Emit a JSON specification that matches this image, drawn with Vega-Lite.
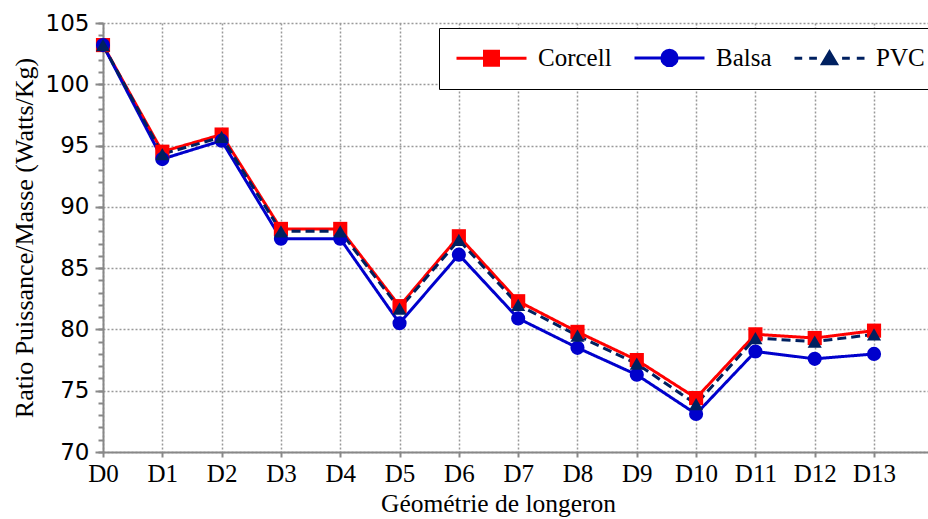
{
  "$schema": "https://vega.github.io/schema/vega-lite/v6.json",
  "width": 825,
  "height": 429,
  "autosize": {"type": "none"},
  "padding": {"left": 103, "top": 23, "right": 0, "bottom": 67},
  "background": "white",
  "config": {"view": {"stroke": null}, "font": "Liberation Serif"},
  "data": {
    "values": [
      {"geom": "D0", "serie": "Corcell", "ratio": 103.2},
      {"geom": "D1", "serie": "Corcell", "ratio": 94.5},
      {"geom": "D2", "serie": "Corcell", "ratio": 95.9},
      {"geom": "D3", "serie": "Corcell", "ratio": 88.2},
      {"geom": "D4", "serie": "Corcell", "ratio": 88.2},
      {"geom": "D5", "serie": "Corcell", "ratio": 81.9},
      {"geom": "D6", "serie": "Corcell", "ratio": 87.6},
      {"geom": "D7", "serie": "Corcell", "ratio": 82.3},
      {"geom": "D8", "serie": "Corcell", "ratio": 79.8},
      {"geom": "D9", "serie": "Corcell", "ratio": 77.5},
      {"geom": "D10", "serie": "Corcell", "ratio": 74.4},
      {"geom": "D11", "serie": "Corcell", "ratio": 79.6},
      {"geom": "D12", "serie": "Corcell", "ratio": 79.3},
      {"geom": "D13", "serie": "Corcell", "ratio": 79.9},
      {"geom": "D0", "serie": "Balsa", "ratio": 103.2},
      {"geom": "D1", "serie": "Balsa", "ratio": 93.9},
      {"geom": "D2", "serie": "Balsa", "ratio": 95.4},
      {"geom": "D3", "serie": "Balsa", "ratio": 87.4},
      {"geom": "D4", "serie": "Balsa", "ratio": 87.4},
      {"geom": "D5", "serie": "Balsa", "ratio": 80.5},
      {"geom": "D6", "serie": "Balsa", "ratio": 86.1},
      {"geom": "D7", "serie": "Balsa", "ratio": 80.9},
      {"geom": "D8", "serie": "Balsa", "ratio": 78.5},
      {"geom": "D9", "serie": "Balsa", "ratio": 76.3},
      {"geom": "D10", "serie": "Balsa", "ratio": 73.1},
      {"geom": "D11", "serie": "Balsa", "ratio": 78.2},
      {"geom": "D12", "serie": "Balsa", "ratio": 77.6},
      {"geom": "D13", "serie": "Balsa", "ratio": 78.0},
      {"geom": "D0", "serie": "PVC", "ratio": 103.2},
      {"geom": "D1", "serie": "PVC", "ratio": 94.3},
      {"geom": "D2", "serie": "PVC", "ratio": 95.7},
      {"geom": "D3", "serie": "PVC", "ratio": 88.0},
      {"geom": "D4", "serie": "PVC", "ratio": 88.0},
      {"geom": "D5", "serie": "PVC", "ratio": 81.7},
      {"geom": "D6", "serie": "PVC", "ratio": 87.3},
      {"geom": "D7", "serie": "PVC", "ratio": 82.0},
      {"geom": "D8", "serie": "PVC", "ratio": 79.5},
      {"geom": "D9", "serie": "PVC", "ratio": 77.2},
      {"geom": "D10", "serie": "PVC", "ratio": 73.9},
      {"geom": "D11", "serie": "PVC", "ratio": 79.3},
      {"geom": "D12", "serie": "PVC", "ratio": 79.0},
      {"geom": "D13", "serie": "PVC", "ratio": 79.6}
    ]
  },
  "encoding": {
    "x": {
      "field": "geom",
      "type": "ordinal",
      "sort": null,
      "scale": {"type": "point", "padding": 0.455, "align": 0},
      "axis": {
        "title": "Géométrie de longeron",
        "titleFont": "Liberation Serif",
        "titleFontSize": 25.5,
        "titleFontWeight": "normal",
        "titleColor": "black",
        "titleX": 395,
        "titlePadding": 5,
        "labelFont": "Liberation Serif",
        "labelFontSize": 25,
        "labelColor": "black",
        "labelAngle": 0,
        "labelPadding": 4,
        "tickSize": 5,
        "tickColor": "#888888",
        "tickWidth": 2,
        "domainColor": "#888888",
        "domainWidth": 2,
        "grid": true,
        "gridColor": "#999999",
        "gridDash": [2, 2],
        "gridWidth": 1.5
      }
    },
    "color": {
      "field": "serie",
      "type": "nominal",
      "sort": ["Corcell", "Balsa", "PVC"],
      "scale": {"domain": ["Corcell", "Balsa", "PVC"], "range": ["#FF0000", "#0000CC", "#002060"]},
      "legend": {
        "orient": "none",
        "legendX": 336,
        "legendY": 5,
        "direction": "horizontal",
        "title": null,
        "strokeColor": "black",
        "fillColor": "white",
        "padding": 17,
        "labelFont": "Liberation Serif",
        "labelFontSize": 25,
        "labelColor": "black",
        "labelOffset": 34,
        "symbolOffset": 23,
        "symbolSize": 196,
        "symbolStrokeWidth": 3,
        "columnPadding": 16,
        "symbolType": "M-5,0H5M-1,-1H1V1H-1Z",
        "encode": {
          "symbols": {
            "update": {
              "shape": {"signal": "datum.value === 'Corcell' ? 'M-5,0H5M-1,-1H1V1H-1Z' : datum.value === 'Balsa' ? 'M-5,0H5M1.1,0A1.1,1.1,0,1,1,-1.1,0A1.1,1.1,0,1,1,1.1,0Z' : 'M-5,0H-3.9M-2.9,0H-1.8M1.8,0H2.9M3.9,0H5M0,-0.9L1,0.8H-1Z'"},
              "fill": {"signal": "scale('color', datum.value)"},
              "stroke": {"signal": "scale('color', datum.value)"},
              "opacity": {"value": 1}
            }
          }
        }
      }
    }
  },
  "layer": [
    {
      "mark": {"type": "line", "strokeWidth": 3},
      "encoding": {
        "y": {
          "field": "ratio",
          "type": "quantitative",
          "scale": {"domain": [70, 105], "nice": false, "zero": false},
          "axis": {
            "values": [70, 75, 80, 85, 90, 95, 100, 105],
            "title": "Ratio Puissance/Masse (Watts/Kg)",
            "titleFont": "Liberation Serif",
            "titleFontSize": 26,
            "titleFontWeight": "normal",
            "titleColor": "black",
            "titleX": -66,
            "titleY": 214.5,
            "titleAlign": "center",
            "labelFont": "DejaVu Sans",
            "labelFontSize": 23,
            "labelColor": "black",
            "labelPadding": 6,
            "tickSize": 8,
            "tickColor": "#888888",
            "tickWidth": 2,
            "domainColor": "#888888",
            "domainWidth": 2,
            "grid": true,
            "gridColor": "#999999",
            "gridDash": [2, 2],
            "gridWidth": 1.5
          }
        },
        "strokeDash": {
          "condition": {"test": "datum.serie === 'PVC'", "value": [9, 5]},
          "value": [1, 0]
        }
      }
    },
    {
      "mark": {"type": "point", "filled": true, "opacity": 1, "size": 200},
      "encoding": {
        "y": {
          "field": "ratio",
          "type": "quantitative",
          "scale": {"domain": [70, 105], "nice": false, "zero": false},
          "axis": {
            "orient": "left",
            "values": [70, 71, 72, 73, 74, 75, 76, 77, 78, 79, 80, 81, 82, 83, 84, 85, 86, 87, 88, 89, 90, 91, 92, 93, 94, 95, 96, 97, 98, 99, 100, 101, 102, 103, 104, 105],
            "labels": false,
            "title": null,
            "grid": false,
            "domain": false,
            "tickSize": 5,
            "tickColor": "#888888",
            "tickWidth": 2
          }
        },
        "shape": {
          "condition": [
            {"test": "datum.serie === 'Corcell'", "value": "square"},
            {"test": "datum.serie === 'Balsa'", "value": "circle"}
          ],
          "value": "triangle-up"
        }
      }
    }
  ],
  "resolve": {"axis": {"y": "independent"}}
}
